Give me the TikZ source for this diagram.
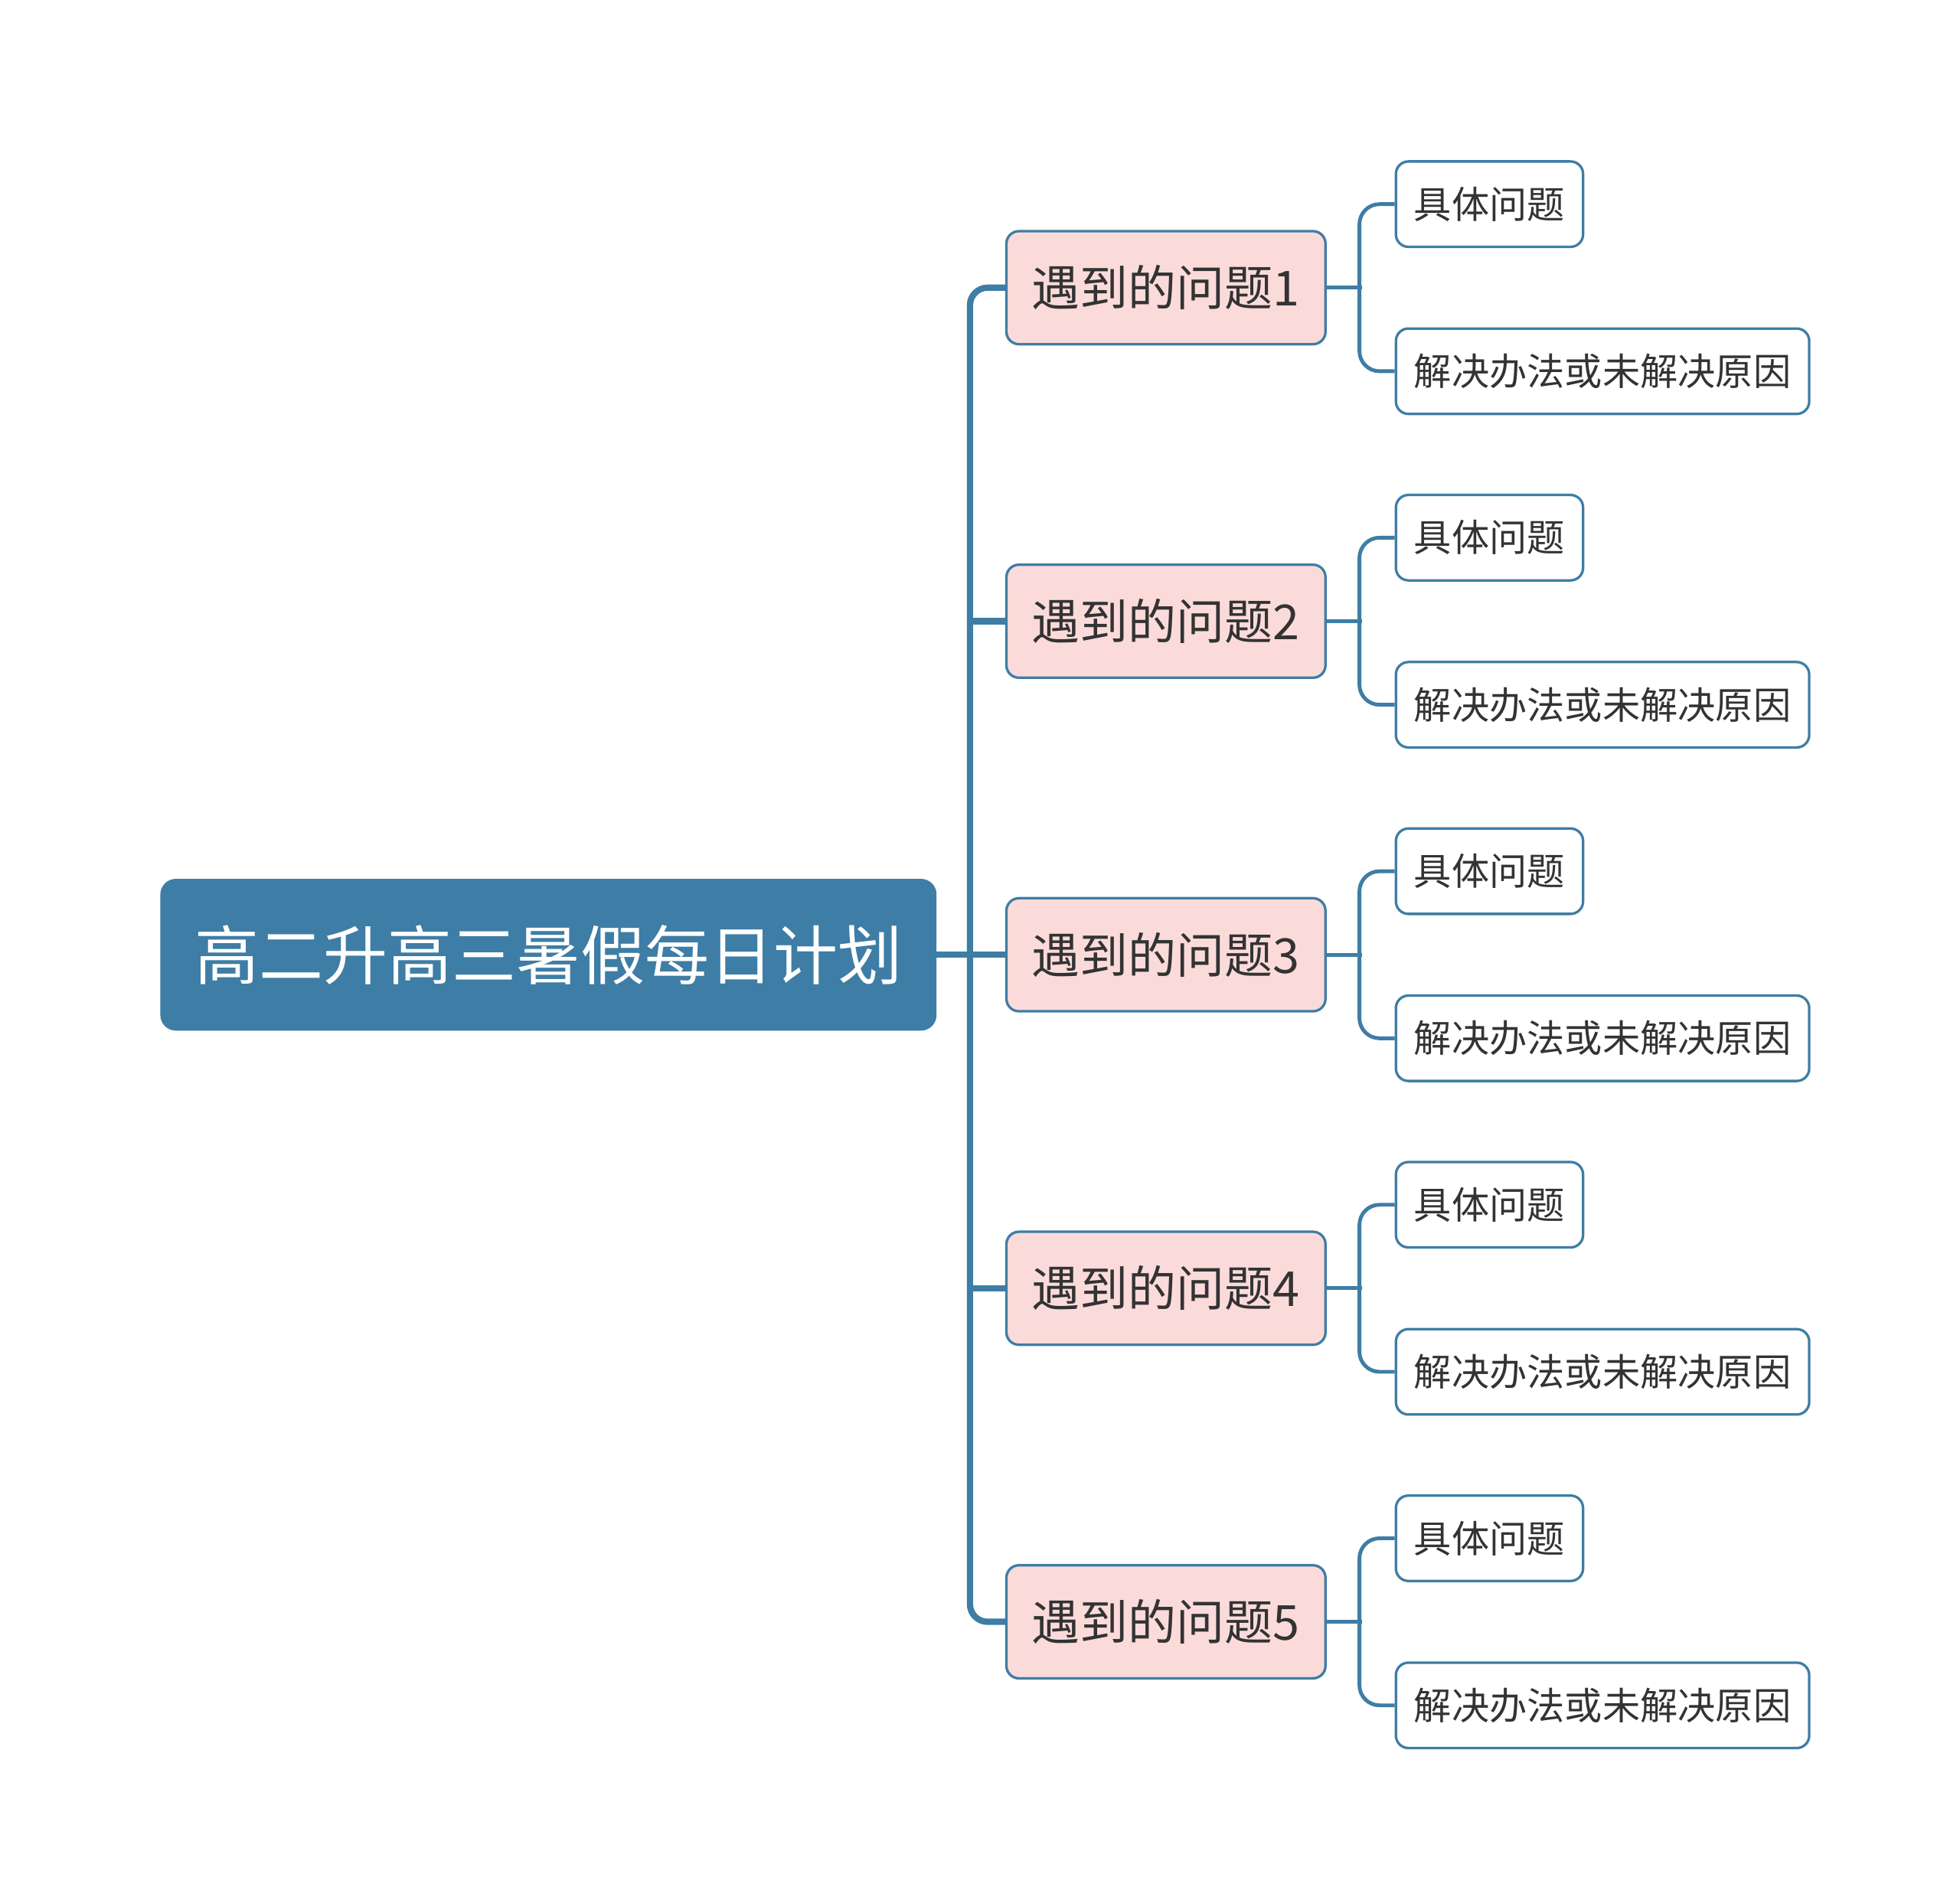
\documentclass[tikz,border=0pt]{standalone}
\usepackage{fontspec}
\newfontfamily\cjk{Noto Sans CJK SC}
\usetikzlibrary{positioning}
\definecolor{shublue}{HTML}{3E7DA5}
\definecolor{shupink}{HTML}{FBDBDA}
\definecolor{shutext}{HTML}{333333}

\begin{document}
\begin{tikzpicture}[x=0.5pt,y=-0.5pt,
  root/.style={draw=shublue,fill=shublue,rounded corners=6pt,text=white,font=\cjk\fontsize{25.6}{30}\selectfont,minimum width=308.5pt,minimum height=60pt,inner sep=0pt},
  prob/.style={draw=shublue,line width=1pt,fill=shupink,rounded corners=5pt,text=shutext,font=\cjk\fontsize{19.2}{23}\selectfont,minimum width=127pt,minimum height=45pt,inner sep=0pt},
  leaf/.style={draw=shublue,line width=1pt,fill=white,rounded corners=5pt,text=shutext,font=\cjk\fontsize{15}{18}\selectfont,minimum height=34pt,inner xsep=7.25pt,inner ysep=0pt},
  trunk/.style={shublue,line width=2.5pt,rounded corners=7pt},
  twig/.style={shublue,line width=1.5pt,rounded corners=8pt}]
\useasboundingbox (0,0) rectangle (1560,1511.9);
% centre topic
\draw (436.5,760) node (root) [root] {高二升高三暑假每日计划};
% problems
\draw (800,229) node (p1) [prob,anchor=west] {遇到的问题1};
\draw (800,494.5) node (p2) [prob,anchor=west] {遇到的问题2};
\draw (800,760) node (p3) [prob,anchor=west] {遇到的问题3};
\draw (800,1025.5) node (p4) [prob,anchor=west] {遇到的问题4};
\draw (800,1291) node (p5) [prob,anchor=west] {遇到的问题5};
% details
\draw (1110,162.5) node (a1) [leaf,anchor=west] {具体问题};
\draw (1110,295.5) node (b1) [leaf,anchor=west] {解决办法或未解决原因};
\draw (1110,428) node (a2) [leaf,anchor=west] {具体问题};
\draw (1110,561) node (b2) [leaf,anchor=west] {解决办法或未解决原因};
\draw (1110,693.5) node (a3) [leaf,anchor=west] {具体问题};
\draw (1110,826.5) node (b3) [leaf,anchor=west] {解决办法或未解决原因};
\draw (1110,959) node (a4) [leaf,anchor=west] {具体问题};
\draw (1110,1092) node (b4) [leaf,anchor=west] {解决办法或未解决原因};
\draw (1110,1224.5) node (a5) [leaf,anchor=west] {具体问题};
\draw (1110,1357.5) node (b5) [leaf,anchor=west] {解决办法或未解决原因};
% trunk
\draw[trunk] (root.east) -- (p3.west);
\draw[trunk] (p1.west) -- ++(-28,0) |- (p5.west);
\draw[trunk] (p2.west) -- ++(-28,0);
\draw[trunk] (p4.west) -- ++(-28,0);
% twigs
\draw[twig] (p1.east) -- ++(28,0);
\draw[twig] (a1.west) -- ++(-28,0) |- (b1.west);
\draw[twig] (p2.east) -- ++(28,0);
\draw[twig] (a2.west) -- ++(-28,0) |- (b2.west);
\draw[twig] (p3.east) -- ++(28,0);
\draw[twig] (a3.west) -- ++(-28,0) |- (b3.west);
\draw[twig] (p4.east) -- ++(28,0);
\draw[twig] (a4.west) -- ++(-28,0) |- (b4.west);
\draw[twig] (p5.east) -- ++(28,0);
\draw[twig] (a5.west) -- ++(-28,0) |- (b5.west);
\end{tikzpicture}
\end{document}
